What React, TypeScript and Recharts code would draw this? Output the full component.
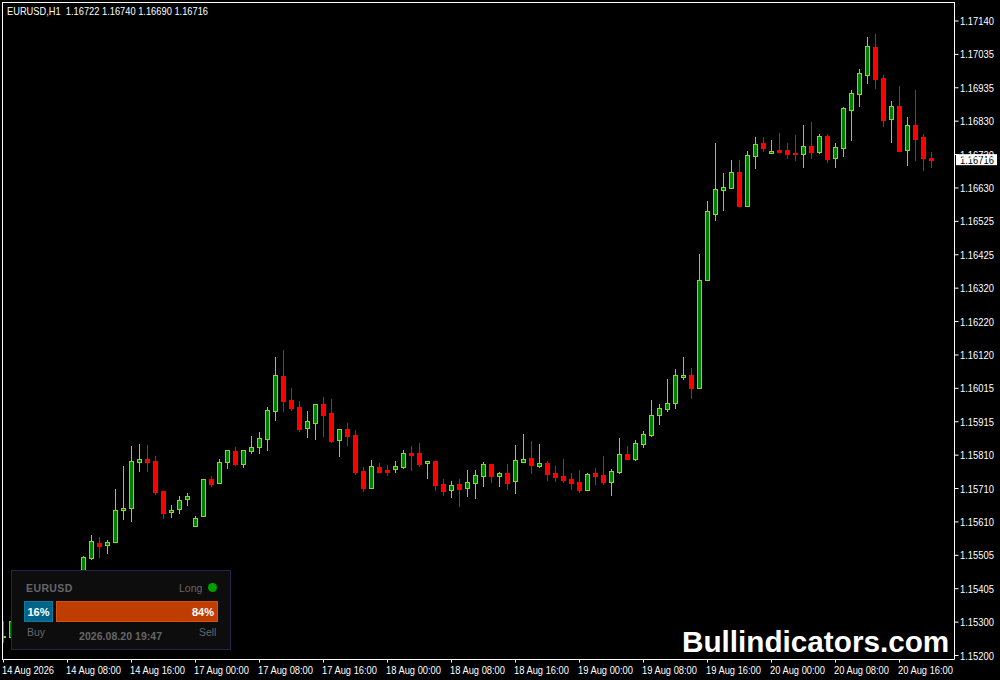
import React from 'react';
import { ComposedChart, Bar, XAxis, YAxis, ReferenceLine } from 'recharts';

const opens = [
  1.15256, 1.15257, 1.15302, 1.15333, 1.15324, 1.15364, 1.15379, 1.15358, 1.15394, 1.15425,
  1.15446, 1.15498, 1.15544, 1.15539, 1.15548, 1.15645, 1.15652, 1.15793, 1.15800, 1.15794,
  1.15702, 1.15640, 1.15647, 1.15678, 1.15597, 1.15626, 1.15739, 1.15726, 1.15793, 1.15825,
  1.15786, 1.15826, 1.15838, 1.15863, 1.15949, 1.16055, 1.15981, 1.15960, 1.15897, 1.15912,
  1.15969, 1.15941, 1.15860, 1.15893, 1.15874, 1.15764, 1.15713, 1.15775, 1.15767, 1.15771,
  1.15776, 1.15819, 1.15819, 1.15788, 1.15795, 1.15724, 1.15705, 1.15724, 1.15713, 1.15728,
  1.15750, 1.15786, 1.15750, 1.15758, 1.15734, 1.15793, 1.15804, 1.15780, 1.15789, 1.15758,
  1.15749, 1.15740, 1.15731, 1.15707, 1.15758, 1.15752, 1.15731, 1.15762, 1.15816, 1.15802,
  1.15848, 1.15875, 1.15935, 1.15955, 1.15973, 1.16052, 1.16058, 1.16018, 1.16349, 1.16551,
  1.16624, 1.16630, 1.16678, 1.16575, 1.16728, 1.16767, 1.16736, 1.16746, 1.16746, 1.16736,
  1.16734, 1.16758, 1.16740, 1.16788, 1.16722, 1.16753, 1.16869, 1.16918, 1.16976, 1.17061,
  1.16966, 1.16841, 1.16880, 1.16747, 1.16822, 1.16785, 1.16722,
];
const highs = [
  1.15306, 1.15315, 1.15345, 1.15351, 1.15382, 1.15400, 1.15394, 1.15413, 1.15443, 1.15458,
  1.15504, 1.15568, 1.15562, 1.15553, 1.15708, 1.15779, 1.15841, 1.15847, 1.15844, 1.15810,
  1.15704, 1.15659, 1.15688, 1.15698, 1.15627, 1.15741, 1.15749, 1.15800, 1.15828, 1.15838,
  1.15828, 1.15871, 1.15883, 1.15960, 1.16113, 1.16134, 1.16018, 1.15978, 1.15948, 1.15968,
  1.15990, 1.15984, 1.15892, 1.15911, 1.15890, 1.15776, 1.15798, 1.15788, 1.15783, 1.15795,
  1.15828, 1.15841, 1.15850, 1.15795, 1.15795, 1.15740, 1.15734, 1.15740, 1.15767, 1.15767,
  1.15792, 1.15786, 1.15761, 1.15786, 1.15844, 1.15877, 1.15856, 1.15847, 1.15795, 1.15779,
  1.15801, 1.15758, 1.15767, 1.15758, 1.15773, 1.15810, 1.15770, 1.15865, 1.15841, 1.15859,
  1.15886, 1.15981, 1.15969, 1.16045, 1.16076, 1.16113, 1.16079, 1.16428, 1.16590, 1.16767,
  1.16675, 1.16715, 1.16715, 1.16743, 1.16785, 1.16785, 1.16776, 1.16798, 1.16767, 1.16791,
  1.16822, 1.16831, 1.16795, 1.16795, 1.16767, 1.16877, 1.16929, 1.16992, 1.17091, 1.17100,
  1.16975, 1.16895, 1.16941, 1.16847, 1.16929, 1.16795, 1.16740,
];
const lows = [
  1.15239, 1.15247, 1.15290, 1.15296, 1.15315, 1.15351, 1.15339, 1.15345, 1.15382, 1.15413,
  1.15437, 1.15492, 1.15498, 1.15510, 1.15545, 1.15614, 1.15609, 1.15761, 1.15762, 1.15692,
  1.15618, 1.15621, 1.15633, 1.15657, 1.15594, 1.15623, 1.15716, 1.15724, 1.15770, 1.15779,
  1.15773, 1.15816, 1.15816, 1.15825, 1.15917, 1.15945, 1.15948, 1.15883, 1.15865, 1.15859,
  1.15868, 1.15850, 1.15807, 1.15841, 1.15752, 1.15700, 1.15712, 1.15762, 1.15749, 1.15758,
  1.15770, 1.15764, 1.15776, 1.15740, 1.15703, 1.15688, 1.15682, 1.15654, 1.15685, 1.15679,
  1.15715, 1.15727, 1.15715, 1.15706, 1.15694, 1.15793, 1.15755, 1.15773, 1.15734, 1.15731,
  1.15727, 1.15706, 1.15697, 1.15707, 1.15721, 1.15721, 1.15688, 1.15755, 1.15798, 1.15795,
  1.15834, 1.15869, 1.15905, 1.15945, 1.15954, 1.16042, 1.15984, 1.16015, 1.16345, 1.16529,
  1.16559, 1.16626, 1.16571, 1.16574, 1.16688, 1.16740, 1.16733, 1.16740, 1.16718, 1.16712,
  1.16691, 1.16718, 1.16733, 1.16706, 1.16691, 1.16724, 1.16773, 1.16877, 1.16947, 1.16932,
  1.16816, 1.16767, 1.16740, 1.16697, 1.16712, 1.16681, 1.16690,
];
const closes = [
  1.15260, 1.15306, 1.15333, 1.15315, 1.15370, 1.15382, 1.15351, 1.15400, 1.15431, 1.15449,
  1.15500, 1.15549, 1.15536, 1.15546, 1.15645, 1.15650, 1.15794, 1.15800, 1.15793, 1.15701,
  1.15637, 1.15645, 1.15675, 1.15687, 1.15620, 1.15739, 1.15725, 1.15791, 1.15827, 1.15786,
  1.15827, 1.15837, 1.15864, 1.15950, 1.16057, 1.15978, 1.15957, 1.15893, 1.15916, 1.15968,
  1.15935, 1.15856, 1.15892, 1.15871, 1.15761, 1.15712, 1.15779, 1.15762, 1.15762, 1.15779,
  1.15818, 1.15813, 1.15786, 1.15794, 1.15721, 1.15703, 1.15720, 1.15709, 1.15730, 1.15751,
  1.15785, 1.15749, 1.15757, 1.15727, 1.15797, 1.15800, 1.15783, 1.15788, 1.15755, 1.15746,
  1.15737, 1.15727, 1.15706, 1.15754, 1.15749, 1.15731, 1.15763, 1.15815, 1.15801, 1.15849,
  1.15876, 1.15934, 1.15956, 1.15971, 1.16057, 1.16058, 1.16018, 1.16347, 1.16558, 1.16625,
  1.16632, 1.16677, 1.16574, 1.16729, 1.16763, 1.16752, 1.16743, 1.16740, 1.16733, 1.16734,
  1.16757, 1.16740, 1.16788, 1.16718, 1.16754, 1.16873, 1.16919, 1.16980, 1.17063, 1.16963,
  1.16837, 1.16879, 1.16743, 1.16821, 1.16779, 1.16721, 1.16716,
];

// every 8th bar carries a time label
const timeTicks = [0, 8, 16, 24, 32, 40, 48, 56, 64, 72, 80, 88, 96, 104, 112];
const timeLabels = [
  '14 Aug 2026', '14 Aug 08:00', '14 Aug 16:00', '17 Aug 00:00', '17 Aug 08:00',
  '17 Aug 16:00', '18 Aug 00:00', '18 Aug 08:00', '18 Aug 16:00', '19 Aug 00:00',
  '19 Aug 08:00', '19 Aug 16:00', '20 Aug 00:00', '20 Aug 08:00', '20 Aug 16:00',
];
const priceTicks = [
  1.1714, 1.170379, 1.169358, 1.168337, 1.167316, 1.166295, 1.165274, 1.164253, 1.163232, 1.162211,
  1.161189, 1.160168, 1.159147, 1.158126, 1.157105, 1.156084, 1.155063, 1.154042, 1.153021, 1.152,
];
const priceLabels = [
  '1.17140', '1.17035', '1.16935', '1.16830', '1.16730', '1.16630', '1.16525', '1.16425', '1.16320', '1.16220',
  '1.16120', '1.16015', '1.15915', '1.15810', '1.15710', '1.15610', '1.15505', '1.15405', '1.15300', '1.15200',
];

const lastPrice = 1.16716;
const buyPercent = 16;
const sellPercent = 84;

const candles = opens.map((open, i) => ({ i, open, high: highs[i], low: lows[i], close: closes[i] }));

const AXIS_FONT = '"Liberation Sans", sans-serif';
const GREEN_EDGE = '#9acd32';
const GREEN_BODY = '#008000';
const RED = '#ff0000';

const Candle = (props: any) => {
  const { x, y, width, height, payload } = props;
  const { open, high, low, close } = payload;
  const perUnit = height / (high - low);
  const toY = (v: number) => y + (high - v) * perUnit;
  const cx = Math.floor(x + width / 2) + 0.5;
  const up = close >= open;
  const top = Math.round(toY(Math.max(open, close)));
  const bottom = Math.round(toY(Math.min(open, close)));
  const edge = up ? GREEN_EDGE : RED;
  return (
    <g shapeRendering="crispEdges">
      <line x1={cx} x2={cx} y1={Math.round(y)} y2={Math.round(y + height)} stroke={edge} />
      <rect x={cx - 2} y={top + 0.5} width={4} height={Math.max(bottom - top, 1)} fill={up ? GREEN_BODY : RED} stroke={edge} />
    </g>
  );
};

const TimeTick = (props: any) => {
  const { x, y, index } = props;
  return (
    <text x={x - 1.5} y={y + 9.5} fill="#fff" fontFamily={AXIS_FONT} fontSize={10.5} textLength={index === 0 ? 52 : 55} lengthAdjust="spacingAndGlyphs">
      {timeLabels[index]}
    </text>
  );
};

const PriceTick = (props: any) => {
  const { y, index } = props;
  return (
    <text x={960} y={y + 4} fill="#fff" fontFamily={AXIS_FONT} fontSize={10.5} textLength={34} lengthAdjust="spacingAndGlyphs">
      {priceLabels[index]}
    </text>
  );
};

const PriceTag = (props: any) => {
  const { viewBox } = props;
  const right = viewBox.x + viewBox.width;
  return (
    <g>
      <rect x={right + 1.5} y={viewBox.y - 5.5} width={41} height={11} fill="#fff" />
      <text x={right + 5.5} y={viewBox.y + 4} fill="#000" fontFamily={AXIS_FONT} fontSize={10.5} textLength={34} lengthAdjust="spacingAndGlyphs">
        {lastPrice.toFixed(5)}
      </text>
    </g>
  );
};

const abs = (left: number, top: number, extra: React.CSSProperties = {}): React.CSSProperties => ({
  position: 'absolute',
  left,
  top,
  whiteSpace: 'nowrap',
  ...extra,
});

const PanelText: React.CSSProperties = { fontFamily: '"Liberation Sans", sans-serif', fontSize: 10.5, color: '#666', lineHeight: '12px' };

const App = () => (
  <div style={{ position: 'absolute', left: 0, top: 0, width: 1000, height: 680, background: '#000', overflow: 'hidden' }}>
    <style>{'html,body{margin:0;background:#000}'}</style>
    <ComposedChart
      width={1000}
      height={680}
      data={candles}
      margin={{ top: 3, right: 0, bottom: 0, left: 3.5 }}
      style={{ position: 'absolute', left: 0, top: 0 }}
    >
      <XAxis
        type="number"
        dataKey="i"
        domain={[0, 118.875]}
        allowDataOverflow
        ticks={timeTicks}
        interval={0}
        height={20.5}
        stroke="#fff"
        tickSize={3}
        tick={<TimeTick />}
      />
      <YAxis
        orientation="right"
        domain={[1.151878, 1.17195]}
        allowDataOverflow
        ticks={priceTicks}
        interval={0}
        width={45.5}
        stroke="#fff"
        tickSize={4}
        tick={<PriceTick />}
      />
      <Bar dataKey={(d: any) => [d.low, d.high]} barSize={5} shape={<Candle />} isAnimationActive={false} />
      <ReferenceLine y={lastPrice} stroke="none" label={<PriceTag />} />
    </ComposedChart>

    {/* chart frame, top and left */}
    <div style={abs(2, 2, { width: 953, height: 1, background: '#fff' })} />
    <div style={abs(2, 2, { width: 1, height: 658, background: '#fff' })} />

    <div style={abs(7, 5, { fontFamily: AXIS_FONT, fontSize: 10.5, color: '#fff', lineHeight: '12px', whiteSpace: 'pre', transform: 'scaleX(0.885)', transformOrigin: 'left top' })}>
      {'EURUSD,H1  1.16722 1.16740 1.16690 1.16716'}
    </div>

    <div style={abs(682, 624, { fontFamily: AXIS_FONT, fontWeight: 700, fontSize: 29.7, color: '#fff', lineHeight: '36px' })}>
      Bullindicators.com
    </div>

    {/* sentiment panel */}
    <div style={abs(11, 570, { width: 218, height: 78, background: '#0d0d0d', border: '1px solid #2a2050' })}>
      <div style={abs(14, 11, { ...PanelText, fontWeight: 700, letterSpacing: 0.4 })}>EURUSD</div>
      <div style={abs(167, 11, PanelText)}>Long</div>
      <div style={abs(196, 11.5, { width: 9, height: 9, borderRadius: '50%', background: '#00a000' })} />
      <div style={abs(12, 30, { width: 27, height: 19, background: '#00648a', border: '1px solid #0e7a9e' })}>
        <div style={abs(0, 3.5, { ...PanelText, width: 27, textAlign: 'center', color: '#fff', fontWeight: 700, fontSize: 11 })}>{buyPercent}%</div>
      </div>
      <div style={abs(44, 30, { width: 160, height: 19, background: '#c03d00', border: '1px solid #d8500a' })}>
        <div style={abs(135, 3.5, { ...PanelText, color: '#fff', fontWeight: 700, fontSize: 11 })}>{sellPercent}%</div>
      </div>
      <div style={abs(15, 54.5, PanelText)}>Buy</div>
      <div style={abs(187, 54.5, { ...PanelText, letterSpacing: -0.1 })}>Sell</div>
      <div style={abs(67, 59, { ...PanelText, fontWeight: 700, letterSpacing: 0.05 })}>2026.08.20 19:47</div>
    </div>
  </div>
);

export default App;
